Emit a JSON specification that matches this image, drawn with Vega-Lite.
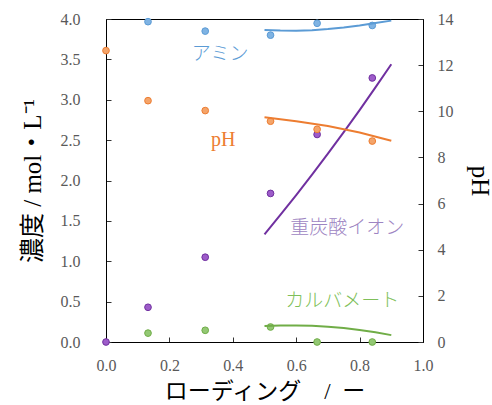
{
  "$schema": "https://vega.github.io/schema/vega-lite/v6.json",
  "width": 317,
  "height": 323,
  "autosize": "none",
  "padding": {"left": 106, "top": 19, "right": 69, "bottom": 63},
  "background": "white",
  "config": {
    "view": {"stroke": "#000", "strokeWidth": 1},
    "axis": {
      "grid": false,
      "labelFlush": false,
      "labelFont": "Liberation Serif",
      "labelFontSize": 16,
      "labelColor": "#595959",
      "tickSize": -5,
      "tickColor": "#333",
      "domainColor": "#000",
      "titleFont": "Liberation Serif, Noto Sans CJK JP",
      "titleFontSize": 25,
      "titleFontWeight": "normal",
      "titleColor": "#000"
    }
  },
  "datasets": {
    "conc": [
      {"loading": 0.1325, "value": 3.967, "species": "amine"},
      {"loading": 0.313, "value": 3.85, "species": "amine"},
      {"loading": 0.519, "value": 3.8, "species": "amine"},
      {"loading": 0.666, "value": 3.947, "species": "amine"},
      {"loading": 0.84, "value": 3.92, "species": "amine"},
      {"loading": 0.1325, "value": 0.11, "species": "carbamate"},
      {"loading": 0.313, "value": 0.145, "species": "carbamate"},
      {"loading": 0.519, "value": 0.186, "species": "carbamate"},
      {"loading": 0.666, "value": 0.0, "species": "carbamate"},
      {"loading": 0.84, "value": 0.0, "species": "carbamate"},
      {"loading": 0.0, "value": 0.0, "species": "bicarbonate"},
      {"loading": 0.1325, "value": 0.43, "species": "bicarbonate"},
      {"loading": 0.313, "value": 1.05, "species": "bicarbonate"},
      {"loading": 0.519, "value": 1.84, "species": "bicarbonate"},
      {"loading": 0.666, "value": 2.57, "species": "bicarbonate"},
      {"loading": 0.84, "value": 3.27, "species": "bicarbonate"}
    ],
    "concfit": [
      {"loading": 0.5, "value": 3.865, "species": "amine"},
      {"loading": 0.55, "value": 3.857, "species": "amine"},
      {"loading": 0.6, "value": 3.855, "species": "amine"},
      {"loading": 0.65, "value": 3.86, "species": "amine"},
      {"loading": 0.7, "value": 3.875, "species": "amine"},
      {"loading": 0.75, "value": 3.895, "species": "amine"},
      {"loading": 0.8, "value": 3.92, "species": "amine"},
      {"loading": 0.85, "value": 3.95, "species": "amine"},
      {"loading": 0.9, "value": 3.98, "species": "amine"},
      {"loading": 0.5, "value": 1.334, "species": "bicarbonate"},
      {"loading": 0.55, "value": 1.573, "species": "bicarbonate"},
      {"loading": 0.6, "value": 1.819, "species": "bicarbonate"},
      {"loading": 0.65, "value": 2.072, "species": "bicarbonate"},
      {"loading": 0.7, "value": 2.332, "species": "bicarbonate"},
      {"loading": 0.75, "value": 2.599, "species": "bicarbonate"},
      {"loading": 0.8, "value": 2.872, "species": "bicarbonate"},
      {"loading": 0.85, "value": 3.153, "species": "bicarbonate"},
      {"loading": 0.9, "value": 3.44, "species": "bicarbonate"},
      {"loading": 0.5, "value": 0.198, "species": "carbamate"},
      {"loading": 0.55, "value": 0.205, "species": "carbamate"},
      {"loading": 0.6, "value": 0.205, "species": "carbamate"},
      {"loading": 0.65, "value": 0.2, "species": "carbamate"},
      {"loading": 0.7, "value": 0.19, "species": "carbamate"},
      {"loading": 0.75, "value": 0.172, "species": "carbamate"},
      {"loading": 0.8, "value": 0.15, "species": "carbamate"},
      {"loading": 0.85, "value": 0.12, "species": "carbamate"},
      {"loading": 0.9, "value": 0.085, "species": "carbamate"}
    ],
    "ph": [
      {"loading": 0.0, "value": 12.63, "species": "pH"},
      {"loading": 0.1325, "value": 10.46, "species": "pH"},
      {"loading": 0.313, "value": 10.03, "species": "pH"},
      {"loading": 0.519, "value": 9.57, "species": "pH"},
      {"loading": 0.666, "value": 9.22, "species": "pH"},
      {"loading": 0.84, "value": 8.71, "species": "pH"}
    ],
    "phfit": [
      {"loading": 0.5, "value": 9.74, "species": "pH"},
      {"loading": 0.6, "value": 9.57, "species": "pH"},
      {"loading": 0.7, "value": 9.36, "species": "pH"},
      {"loading": 0.8, "value": 9.08, "species": "pH"},
      {"loading": 0.9, "value": 8.72, "species": "pH"}
    ],
    "labels": [
      {"loading": 0.36, "value": 3.57, "text": "アミン", "species": "amine"},
      {"loading": 0.37, "value": 2.5, "text": "pH", "species": "pH"},
      {"loading": 0.761, "value": 1.41, "text": "重炭酸イオン", "species": "bicarbonate"},
      {"loading": 0.745, "value": 0.51, "text": "カルバメート", "species": "carbamate"}
    ]
  },
  "layer": [
    {
      "encoding": {
        "x": {
          "field": "loading", "type": "quantitative",
          "scale": {"domain": [0, 1]},
          "axis": {"title": "ローディング\u2003/\u2002ー", "titleFontSize": 23, "tickCount": 5, "format": ".1f", "labelPadding": 20, "titlePadding": 7}
        },
        "y": {
          "field": "value", "type": "quantitative",
          "scale": {"domain": [0, 4]},
          "axis": {"title": "濃度 / mol・L⁻¹", "orient": "left", "values": [0, 0.5, 1, 1.5, 2, 2.5, 3, 3.5, 4], "format": ".1f", "labelPadding": 31, "titlePadding": 15}
        }
      },
      "layer": [
        {
          "data": {"name": "conc"},
          "mark": {"type": "point", "filled": true, "size": 45, "opacity": 1, "strokeWidth": 1},
          "encoding": {
            "fill": {"field": "species", "type": "nominal", "legend": null,
              "scale": {"domain": ["amine", "pH", "bicarbonate", "carbamate"], "range": ["#7fb3e3", "#f4a46a", "#9d5cc9", "#93c874"]}},
            "stroke": {"field": "species", "type": "nominal", "legend": null,
              "scale": {"domain": ["amine", "pH", "bicarbonate", "carbamate"], "range": ["#5b9bd5", "#ed7d31", "#7030a0", "#70ad47"]}}
          }
        },
        {
          "data": {"name": "concfit"},
          "mark": {"type": "line", "strokeWidth": 2},
          "encoding": {
            "stroke": {"field": "species", "type": "nominal", "legend": null}
          }
        },
        {
          "data": {"name": "labels"},
          "transform": [{"filter": "datum.species === 'amine'"}],
          "mark": {"type": "text", "font": "Noto Sans CJK JP", "fontWeight": 300, "fontSize": 19, "color": "#5b9bd5"},
          "encoding": {"text": {"field": "text"}}
        },
        {
          "data": {"name": "labels"},
          "transform": [{"filter": "datum.species === 'pH'"}],
          "mark": {"type": "text", "font": "Liberation Serif", "fontSize": 20, "color": "#ed7d31"},
          "encoding": {"text": {"field": "text"}}
        },
        {
          "data": {"name": "labels"},
          "transform": [{"filter": "datum.species === 'bicarbonate'"}],
          "mark": {"type": "text", "font": "Noto Sans CJK JP", "fontWeight": 300, "fontSize": 19, "color": "#9d84c2"},
          "encoding": {"text": {"field": "text"}}
        },
        {
          "data": {"name": "labels"},
          "transform": [{"filter": "datum.species === 'carbamate'"}],
          "mark": {"type": "text", "font": "Noto Sans CJK JP", "fontWeight": 300, "fontSize": 19, "color": "#7fbf5a"},
          "encoding": {"text": {"field": "text"}}
        }
      ]
    },
    {
      "encoding": {
        "x": {"field": "loading", "type": "quantitative", "scale": {"domain": [0, 1]}},
        "y": {
          "field": "value", "type": "quantitative",
          "scale": {"domain": [0, 14]},
          "axis": {"title": "pH", "orient": "right", "values": [0, 2, 4, 6, 8, 10, 12, 14], "labelPadding": 19, "titlePadding": 13}
        }
      },
      "layer": [
        {
          "data": {"name": "ph"},
          "mark": {"type": "point", "filled": true, "size": 45, "opacity": 1, "strokeWidth": 1},
          "encoding": {
            "fill": {"field": "species", "type": "nominal", "legend": null},
            "stroke": {"field": "species", "type": "nominal", "legend": null}
          }
        },
        {
          "data": {"name": "phfit"},
          "mark": {"type": "line", "strokeWidth": 2},
          "encoding": {
            "stroke": {"field": "species", "type": "nominal", "legend": null}
          }
        }
      ]
    }
  ],
  "resolve": {"scale": {"y": "independent"}}
}
